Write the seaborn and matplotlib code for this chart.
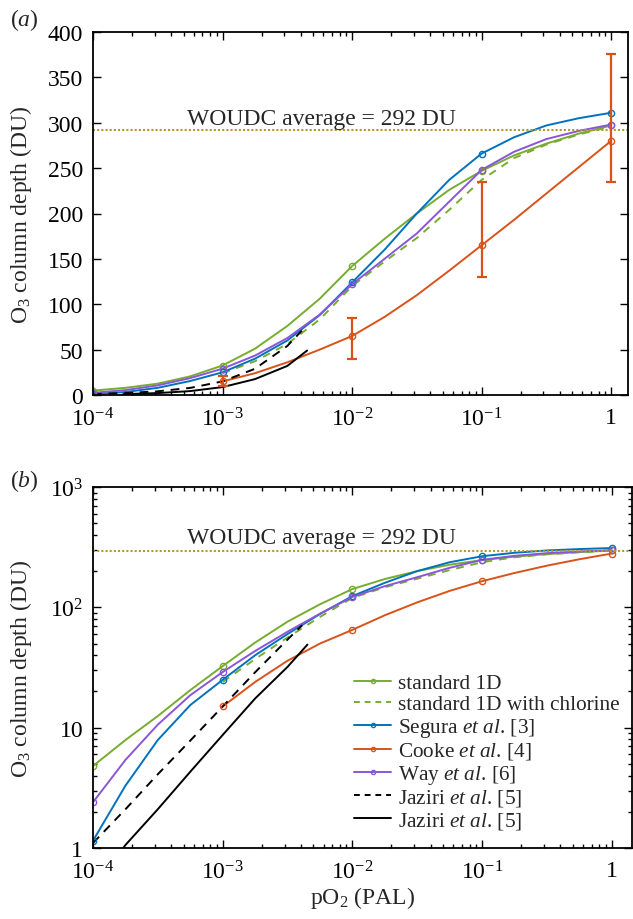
import numpy as np
import pandas as pd
import matplotlib
matplotlib.use("Agg")
import matplotlib.pyplot as plt
import seaborn as sns
from matplotlib.lines import Line2D
from matplotlib.ticker import FixedLocator, LogLocator, NullFormatter, FixedFormatter

# ---------------- data ----------------
# markers (model output points)
x_pts = [1e-4, 1e-3, 1e-2, 1e-1, 1.0]
std1d_pts = [4.8, 32.5, 142, 247, 297]
segura_pts = [1.15, 25, 124, 266, 311]
way_pts = [2.4, 29, 122, 248, 298]
cooke_x = [1e-3, 1e-2, 1e-1, 1.0]
cooke_pts = [15, 65, 165, 280]
cooke_lo = [10, 40, 130, 235]
cooke_hi = [21, 85, 235, 376]

# curves, every quarter decade
x_curve = [1e-4, 1.78e-4, 3.16e-4, 5.62e-4, 1e-3, 1.78e-3, 3.16e-3, 5.62e-3, 1e-2,
           1.78e-2, 3.16e-2, 5.62e-2, 1e-1, 1.78e-1, 3.16e-1, 5.62e-1, 1.0]
std1d_curve = [4.8, 7.9, 12.5, 20.5, 32.5, 51, 76, 106, 142,
               172, 200, 226, 247, 264, 277, 288, 297]
segura_curve = [1.15, 3.3, 7.9, 15.4, 25, 40, 60, 88, 124,
                160, 200, 237, 266, 284, 297, 305, 311]
way_curve = [2.4, 5.4, 10.6, 18.6, 29, 43.4, 62.7, 88.5, 122,
             150, 178, 213, 248, 268, 282, 291, 298]
x_curve_cl = x_curve[4:]
std1d_cl_curve = [24, 37.2, 56.2, 83.2, 120, 147, 173, 204, 237, 261, 276, 287, 296]
cooke_curve = [15, 24, 36, 50, 65, 86, 110, 137, 165, 193, 222, 251, 280]
jaz_dash_x = [1e-4, 1.78e-4, 3.16e-4, 5.62e-4, 1e-3, 1.78e-3, 3.16e-3, 4.1e-3]
jaz_dash_y = [1.1, 2.1, 4.1, 7.8, 15.0, 28.9, 54, 71]
jaz_solid_x = [1.71e-4, 1.78e-4, 3.16e-4, 5.62e-4, 1e-3, 1.78e-3, 3.16e-3, 4.5e-3]
jaz_solid_y = [1.0, 1.06, 2.1, 4.3, 8.7, 17.5, 32, 49]
woudc = 292

labels = ["standard 1D", "standard 1D with chlorine",
          r"Segura $\mathit{et\ al}$. [3]", r"Cooke $\mathit{et\ al}$. [4]",
          r"Way $\mathit{et\ al}$. [6]", r"Jaziri $\mathit{et\ al}$. [5]",
          r"Jaziri $\mathit{et\ al}$. [5]"]

GREEN = "#77AC30"
BLUE = "#0072BD"
ORANGE = "#D95319"
PURPLE = "#8A56D8"
GOLD = "#B8962E"

sns.set_theme(style="ticks")
plt.rcParams["font.family"] = ["Liberation Serif", "DejaVu Serif"]
plt.rcParams["mathtext.fontset"] = "custom"
plt.rcParams["mathtext.rm"] = "Liberation Serif"
plt.rcParams["mathtext.it"] = "Liberation Serif:italic"
plt.rcParams["mathtext.bf"] = "Liberation Serif:bold"

FS = 17
fig = plt.figure(figsize=(6.33, 9.2), dpi=100)
axA = fig.add_axes([93/633, 1-396/920, 535/633, 363/920])
axB = fig.add_axes([93/633, 1-849/920, 539/633, 361/920])

LW = 1.4


def draw(ax):
    sns.lineplot(x=x_curve, y=std1d_curve, ax=ax, color=GREEN, lw=LW, estimator=None, sort=False)
    sns.lineplot(x=x_curve_cl, y=std1d_cl_curve, ax=ax, color=GREEN, lw=LW, estimator=None,
                 sort=False, linestyle=(0, (4, 3.5)))
    sns.lineplot(x=x_curve, y=segura_curve, ax=ax, color=BLUE, lw=LW, estimator=None, sort=False)
    sns.lineplot(x=x_curve_cl, y=cooke_curve, ax=ax, color=ORANGE, lw=LW,
                 estimator=None, sort=False)
    sns.lineplot(x=x_curve, y=way_curve, ax=ax, color=PURPLE, lw=LW, estimator=None, sort=False)
    sns.lineplot(x=jaz_dash_x, y=jaz_dash_y, ax=ax, color="black", lw=LW, estimator=None,
                 sort=False, linestyle=(0, (4.5, 3.5)))
    sns.lineplot(x=jaz_solid_x, y=jaz_solid_y, ax=ax, color="black", lw=LW, estimator=None, sort=False)
    for yy, c in [(std1d_pts, GREEN), (segura_pts, BLUE), (way_pts, PURPLE)]:
        ax.plot(x_pts, yy, ls="none", marker="o", ms=4.5, mfc="none", mec=c, mew=1.0)
    ax.plot(cooke_x, cooke_pts, ls="none", marker="o", ms=4.5, mfc="none", mec=ORANGE, mew=1.0)
    ax.axhline(woudc, color=GOLD, lw=1.5, ls=(0, (1, 1)))


def style(ax, xmax):
    ax.set_xscale("log")
    ax.set_xlim(1e-4, xmax)
    ax.xaxis.set_major_locator(FixedLocator([1e-4, 1e-3, 1e-2, 1e-1, 1]))
    ax.xaxis.set_major_formatter(FixedFormatter([r"$10^{-4}$", r"$10^{-3}$", r"$10^{-2}$",
                                                 r"$10^{-1}$", "1"]))
    ax.xaxis.set_minor_locator(LogLocator(base=10, subs=np.arange(2, 10), numticks=20))
    ax.xaxis.set_minor_formatter(NullFormatter())
    ax.tick_params(which="both", direction="in", top=True, right=True, labelsize=FS,
                   colors="black", width=1.0)
    ax.tick_params(which="major", length=6)
    ax.tick_params(which="minor", length=3)
    ax.tick_params(axis="x", which="major", pad=8.5)
    ax.tick_params(axis="y", which="major", pad=7)
    for s in ax.spines.values():
        s.set_linewidth(1.3)
        s.set_color("black")
    ax.set_ylabel(r"O$_3$ column depth (DU)", fontsize=FS)
    ax.grid(False)


# ---- panel a ----
draw(axA)
axA.errorbar(cooke_x, cooke_pts,
             yerr=[np.array(cooke_pts) - np.array(cooke_lo), np.array(cooke_hi) - np.array(cooke_pts)],
             fmt="none", ecolor=ORANGE, elinewidth=1.6, capsize=3.5, capthick=1.6)
style(axA, 1.35)
axA.set_ylim(0, 400)
axA.yaxis.set_major_locator(FixedLocator(np.arange(0, 401, 50)))
axA.yaxis.set_label_coords(-0.110, 0.5)
axA.text(5.3e-4, 299, "WOUDC average = 292 DU", fontsize=FS, ha="left", va="baseline")

# ---- panel b ----
draw(axB)
style(axB, 1.43)
axB.set_yscale("log")
axB.set_ylim(1, 1000)
axB.yaxis.set_major_locator(FixedLocator([1, 10, 100, 1000]))
axB.yaxis.set_major_formatter(FixedFormatter(["1", "10", r"$10^{2}$", r"$10^{3}$"]))
axB.yaxis.set_minor_locator(LogLocator(base=10, subs=np.arange(2, 10), numticks=20))
axB.yaxis.set_minor_formatter(NullFormatter())
axB.tick_params(which="both", direction="in", top=True, right=True)
axB.yaxis.set_label_coords(-0.1095, 0.5)
axB.text(5.3e-4, 345, "WOUDC average = 292 DU", fontsize=FS, ha="left", va="baseline")
axB.set_xlabel(r"pO$_2$ (PAL)", fontsize=FS, labelpad=1)

handles = [
    Line2D([], [], color=GREEN, lw=LW, marker="o", ms=3, mfc="none"),
    Line2D([], [], color=GREEN, lw=LW, ls=(0, (3, 2.5))),
    Line2D([], [], color=BLUE, lw=LW, marker="o", ms=3, mfc="none"),
    Line2D([], [], color=ORANGE, lw=LW, marker="o", ms=3, mfc="none"),
    Line2D([], [], color=PURPLE, lw=LW, marker="o", ms=3, mfc="none"),
    Line2D([], [], color="black", lw=LW, ls=(0, (3, 2.5))),
    Line2D([], [], color="black", lw=LW),
]
axB.legend(handles, labels, loc="lower right", bbox_to_anchor=(1.0, 0.012), frameon=False,
           fontsize=15.3, handlelength=1.75, handletextpad=0.3, labelspacing=0.07,
           borderaxespad=0.2)

fig.text(10/633, 1-26/920, r"($\mathit{a}$)", fontsize=FS, ha="left", va="baseline")
fig.text(10/633, 1-487/920, r"($\mathit{b}$)", fontsize=FS, ha="left", va="baseline")

fig.savefig("out.png", dpi=100)
